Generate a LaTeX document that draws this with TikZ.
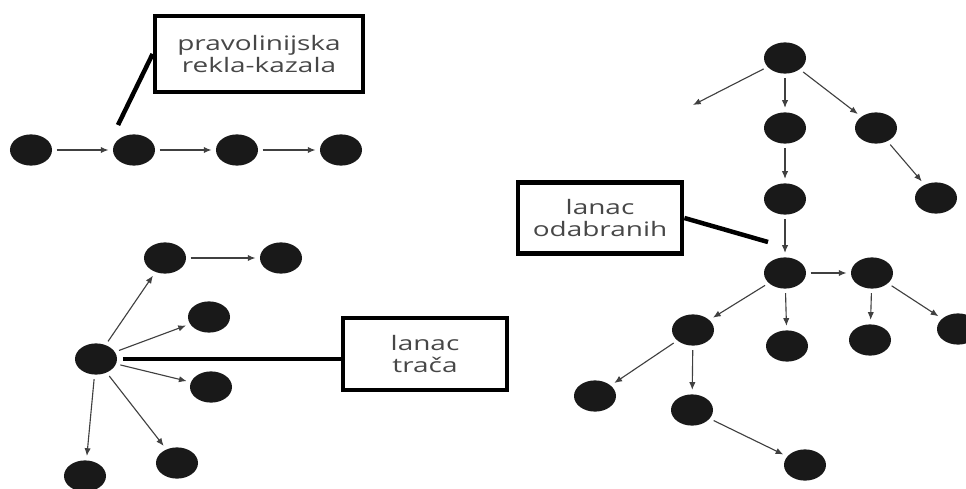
\documentclass[tikz,border=0pt]{standalone}
\usepackage{fontspec}
\setmainfont[FakeStretch=1.4]{Open Sans}
\usepackage{xcolor}
\usepackage{tikz}
\usetikzlibrary{arrows.meta,shapes.geometric}
\begin{document}
\begin{tikzpicture}[
    x=0.025cm, y=-0.025cm,
    >={Latex[length=5.5pt,width=4.5pt]},
    dot/.style={ellipse, fill=black!90, draw=none, minimum width=1.05cm, minimum height=0.78cm, inner sep=0pt},
    link/.style={->, black!75, line width=0.8pt, shorten <=3pt, shorten >=3pt},
    lead/.style={black, line width=3.2pt},
    tag/.style={draw=black, line width=3.4pt, fill=white, align=center, text=black!72, inner sep=0pt, font=\fontsize{14.2}{15}\selectfont}
]
\useasboundingbox (0,0) rectangle (966,488);
% straight chain
\node[dot] (p1) at (31,150) {};
\node[dot] (p2) at (134,150) {};
\node[dot] (p3) at (237,150) {};
\node[dot] (p4) at (341,150) {};
\node[tag, minimum width=5.2cm, minimum height=1.9cm] (rk) at (259,54) {pravolinijska\\rekla-kazala};
\coordinate (rktip) at (118,125);
\draw[link] (p1) -- (p2);
\draw[link] (p2) -- (p3);
\draw[link] (p3) -- (p4);
\draw[lead] (rk.west) -- (rktip);
% gossip chain
\node[dot] (hub) at (96,359) {};
\node[dot] (ga) at (165,258) {};
\node[dot] (gb) at (281,258) {};
\node[dot] (gc) at (209,317) {};
\node[dot] (gd) at (211,387) {};
\node[dot] (ge) at (177,463) {};
\node[dot] (gf) at (85,476) {};
\node[tag, minimum width=4.1cm, minimum height=1.8cm] (tr) at (425,354) {lanac\\trača};
\draw[link] (hub) -- (ga);
\draw[link] (ga) -- (gb);
\draw[link] (hub) -- (gc);
\draw[link] (hub) -- (gd);
\draw[link] (hub) -- (ge);
\draw[link] (hub) -- (gf);
\draw[lead, shorten <=4pt] (hub.east) -- (hub.east -| tr.west);
% chain of the chosen
\node[dot] (r0) at (785,58) {};
\node[dot] (r1) at (785,128) {};
\node[dot] (r2) at (876,128) {};
\node[dot] (r3) at (936,198) {};
\node[dot] (r4) at (785,199) {};
\node[dot] (s0) at (785,273) {};
\node[dot] (s1) at (872,273) {};
\node[dot] (s2) at (787,346) {};
\node[dot] (s3) at (693,330) {};
\node[dot] (s4) at (870,340) {};
\node[dot] (s5) at (958,329) {};
\node[dot] (s6) at (595,396) {};
\node[dot] (s7) at (692,410) {};
\node[dot] (s8) at (805,465) {};
\coordinate (loose) at (693,105);
\node[tag, minimum width=4.1cm, minimum height=1.78cm] (od) at (600,218) {lanac\\odabranih};
\coordinate (odtip) at (768,242);
\draw[link, shorten >=0pt] (r0) -- (loose);
\draw[link] (r0) -- (r1);
\draw[link] (r0) -- (r2);
\draw[link] (r2) -- (r3);
\draw[link] (r1) -- (r4);
\draw[link] (r4) -- (s0);
\draw[link] (s0) -- (s1);
\draw[link] (s0) -- (s2);
\draw[link] (s0) -- (s3);
\draw[link] (s1) -- (s4);
\draw[link] (s1) -- (s5);
\draw[link] (s3) -- (s6);
\draw[link] (s3) -- (s7);
\draw[link] (s7) -- (s8);
\draw[lead] (od.east) -- (odtip);
\end{tikzpicture}
\end{document}
